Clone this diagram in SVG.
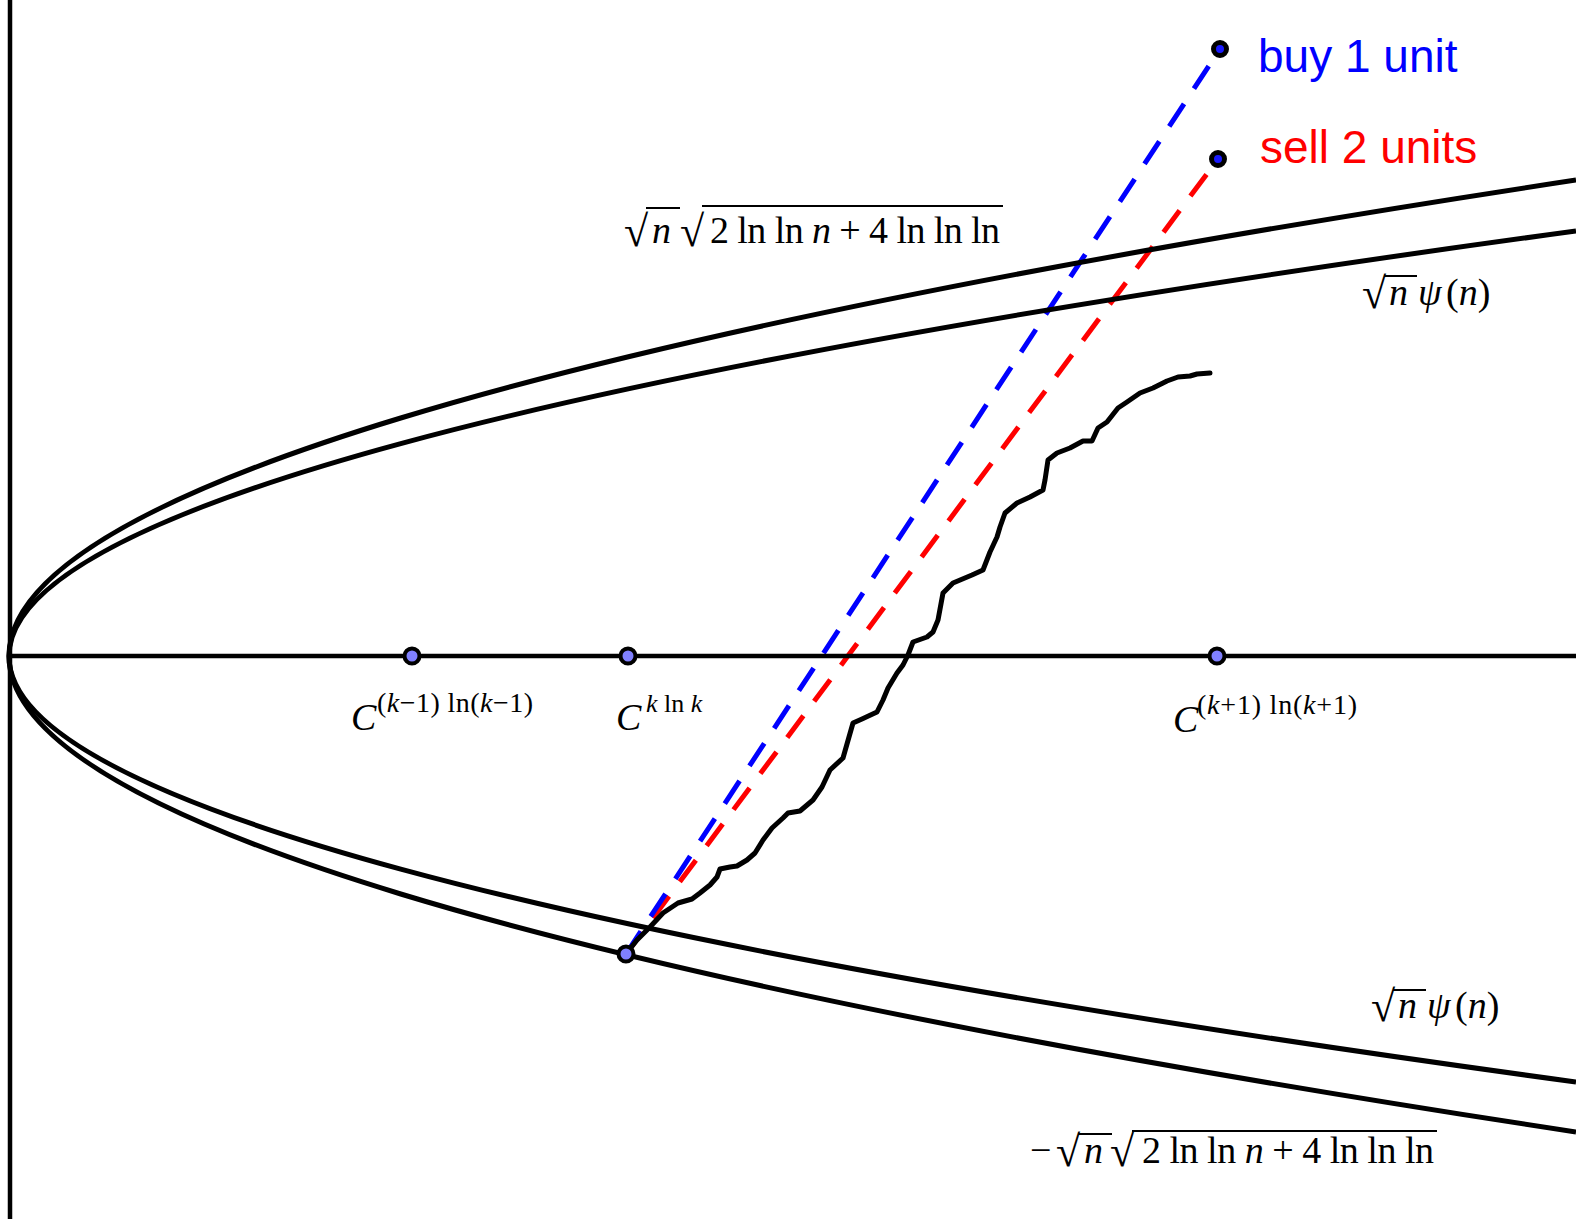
<svg xmlns="http://www.w3.org/2000/svg" width="1576" height="1219" viewBox="0 0 1576 1219">
<style>
.ax{stroke:#000;stroke-width:4.5;fill:none}
.cv{stroke:#000;stroke-width:5;fill:none}
.walk{stroke:#000;stroke-width:5;fill:none;stroke-linejoin:round;stroke-linecap:round}
.dash{stroke-width:5;fill:none;stroke-dasharray:27 18}
.pt{fill:#8080ff;stroke:#000;stroke-width:4}
.ep{fill:#1a1aff;stroke:#000;stroke-width:5}
.m{font-family:"Liberation Serif","DejaVu Serif",serif;font-size:38px;fill:#000}
.rad{font-family:"Liberation Serif","DejaVu Serif",serif;font-size:44px;fill:#000}
.mi{font-style:italic}
.sup{font-family:"Liberation Serif","DejaVu Serif",serif;font-size:28px;fill:#000}
.ov{stroke:#000;stroke-width:2}
.lbl{font-family:"Liberation Sans",Arial,sans-serif;font-size:46px}
</style>
<rect width="1576" height="1219" fill="#fff"/>
<g id="connectors">
<line class="dash" x1="626" y1="954" x2="1218" y2="159" stroke="#ff0000"/>
<line class="dash" x1="626" y1="954" x2="1220" y2="49" stroke="#0000ff"/>
</g>
<g id="axes">
<line class="ax" x1="10" y1="0" x2="10" y2="1219"/>
<line class="ax" x1="9" y1="656" x2="1576" y2="656"/>
</g>
<g id="curves">
<path class="cv" d="M1576 1132 Q-1558 656 1576 180"/>
<path class="cv" d="M1576 1082 Q-1558 656 1576 231"/>
</g>
<g id="walk">
<polyline class="walk" points="626,954 637,940 650,927 663,913 678,903 692,899 700,893 710,885 717,877 720,869 730,867 737,866 747,860 755,853 763,840 772,828 783,818 788,813 800,811 813,800 822,787 830,770 843,758 853,723 862,719 877,712 883,700 888,688 897,673 903,665 908,655 913,642 927,637 933,632 938,620 943,593 953,583 972,575 983,570 990,552 997,537 1000,527 1005,513 1017,503 1030,497 1043,490 1045,480 1048,460 1057,453 1070,448 1083,441 1092,441 1098,428 1107,422 1118,408 1127,402 1140,393 1153,388 1167,381 1178,377 1190,376 1197,374 1210,373"/>
</g>
<g id="point-ckm1"><circle class="pt" cx="412" cy="656" r="7.5"/></g>
<g id="point-ck"><circle class="pt" cx="628" cy="656" r="7.5"/></g>
<g id="point-ckp1"><circle class="pt" cx="1217" cy="656" r="7.5"/></g>
<g id="point-start"><circle class="pt" cx="626" cy="954" r="7.5"/></g>
<g id="point-buy"><circle class="ep" cx="1220" cy="49" r="6.5"/></g>
<g id="point-sell"><circle class="ep" cx="1218" cy="159" r="6.5"/></g>
<g id="label-buy"><text class="lbl" x="1258" y="72" fill="#0000ff">buy 1 unit</text></g>
<g id="label-sell"><text class="lbl" x="1260" y="163" fill="#ff0000">sell 2 units</text></g>
<g id="label-upper-outer">
<text class="rad" x="624" y="246">√</text>
<line class="ov" x1="646" y1="208" x2="680" y2="208"/>
<text class="m mi" x="652" y="243">n</text>
<text class="rad" x="680" y="246">√</text>
<line class="ov" x1="702" y1="206" x2="1003" y2="206"/>
<text class="m" x="710" y="243" textLength="290">2 ln ln <tspan class="mi">n</tspan> + 4 ln ln ln</text>
</g>
<g id="label-upper-inner">
<text class="rad" x="1362" y="308">√</text>
<line class="ov" x1="1384" y1="276" x2="1417" y2="276"/>
<text class="m mi" x="1389" y="305">n</text>
<text class="m mi" x="1418" y="305">ψ</text>
<text class="m" x="1446" y="305">(<tspan class="mi">n</tspan>)</text>
</g>
<g id="label-lower-inner">
<text class="rad" x="1371" y="1021">√</text>
<line class="ov" x1="1393" y1="990" x2="1426" y2="990"/>
<text class="m mi" x="1398" y="1018">n</text>
<text class="m mi" x="1427" y="1018">ψ</text>
<text class="m" x="1455" y="1018">(<tspan class="mi">n</tspan>)</text>
</g>
<g id="label-lower-outer">
<text class="m" x="1030" y="1163">−</text>
<text class="rad" x="1056" y="1166">√</text>
<line class="ov" x1="1078" y1="1134" x2="1112" y2="1134"/>
<text class="m mi" x="1084" y="1163">n</text>
<text class="rad" x="1110" y="1166">√</text>
<line class="ov" x1="1132" y1="1131" x2="1437" y2="1131"/>
<text class="m" x="1142" y="1163" textLength="292">2 ln ln <tspan class="mi">n</tspan> + 4 ln ln ln</text>
</g>
<g id="label-ckm1">
<text class="m mi" x="351" y="730">C</text>
<text class="sup" x="377" y="712" textLength="156">(<tspan class="mi">k</tspan>−1) ln(<tspan class="mi">k</tspan>−1)</text>
</g>
<g id="label-ck">
<text class="m mi" x="616" y="730">C</text>
<text class="sup" x="646" y="712" style="font-size:26px"><tspan class="mi">k</tspan> ln <tspan class="mi">k</tspan></text>
</g>
<g id="label-ckp1">
<text class="m mi" x="1173" y="732">C</text>
<text class="sup" x="1197" y="714" textLength="160">(<tspan class="mi">k</tspan>+1) ln(<tspan class="mi">k</tspan>+1)</text>
</g>
</svg>
